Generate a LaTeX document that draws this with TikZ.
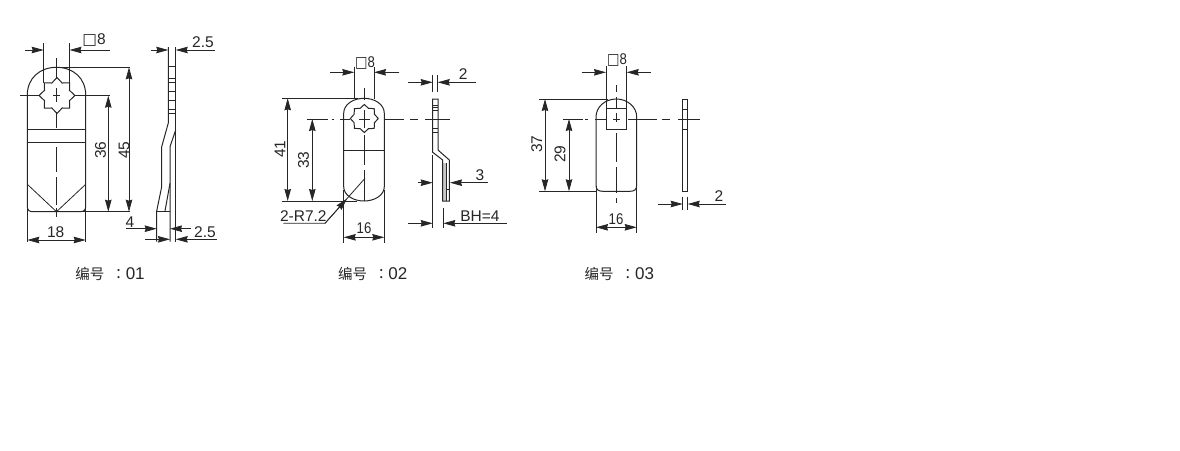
\documentclass[tikz,border=0pt]{standalone}
\usepackage{fontspec}
\setmainfont{Liberation Sans}
\newfontfamily\cjk{Noto Sans CJK SC}
\newfontfamily\cjkc{Noto Sans CJK TC}
\newfontfamily\symf{DejaVu Sans}
\usetikzlibrary{arrows.meta}
\definecolor{inkdark}{HTML}{262626}
\tikzset{
  partline/.style={draw=inkdark,line width=1pt},
  thinline/.style={draw=inkdark,line width=0.8pt},
  dimarrow/.style={draw=inkdark,line width=0.8pt,-{Stealth[length=12pt,width=6.5pt,inset=1pt]}},
  dimtext/.style={text=inkdark,font=\fontsize{15.5}{15}\selectfont,inner sep=0pt},
  footlabel/.style={text=inkdark,font=\fontsize{17}{16}\selectfont,inner sep=0pt}
}
\newcommand{\starhole}[4]{\draw[partline,shift={(#1,#2)}] (0:#3) \foreach \a in {0,45,...,315} {-- (\a+22.5:#4) -- (\a+45:#3)};}
\newcommand{\partlabel}[1]{{\cjk\fontsize{14.5}{14}\selectfont 编号}\hspace{7pt}{\cjkc\fontsize{14.5}{14}\selectfont ：}#1}
\newcommand{\narrow}[1]{\scalebox{.85}[1]{#1}}
\newcommand{\sqmark}{{\symf □}}
\begin{document}
\begin{tikzpicture}[x=1pt,y=-1pt]
  \useasboundingbox (0,0) rectangle (1180,450);
  % part 01, front
  \draw[partline] (27.3,206) -- (27.3,95) .. controls (27.3,78) and (40,67.3) .. (56.5,67.3)
     .. controls (73,67.3) and (85.7,78) .. (85.7,95) -- (85.7,206)
     .. controls (85.7,210) and (84,211.7) .. (80,211.7) -- (33,211.7)
     .. controls (29,211.7) and (27.3,210) .. (27.3,206);
  \starhole{57}{95.5}{18}{13.5}
  \draw[thinline] (27.3,129.7) -- (85.7,129.7);
  \draw[thinline] (27.3,142.3) -- (85.7,142.3);
  \draw[thinline] (27.3,184.3) -- (56.5,211.7) -- (85.7,184.3);
  \foreach \a/\b in {58/78,88/102,112/128,147/172,177/205,208/217} {
    \draw[thinline] (56.5,\a) -- (56.5,\b);
  }
  \draw[thinline] (20,95.7) -- (39,95.7);
  \draw[thinline] (75,95.7) -- (110,95.7);
  \draw[thinline] (53,95.7) -- (60,95.7);
  % part 01, front dimensions
  \draw[thinline] (43.7,43) -- (43.7,83);
  \draw[thinline] (69.5,43) -- (69.5,83);
  \draw[dimarrow] (25,50) -- (43.7,50);
  \draw[dimarrow] (110,50) -- (69.5,50);
  \node[dimtext] (sqa) at (94,40) {\sqmark 8};
  \draw[thinline] (56.5,67.3) -- (130,67.3);
  \draw[thinline] (56.5,211.7) -- (130,211.7);
  \draw[dimarrow] (129,140) -- (129,67.3);
  \draw[dimarrow] (129,140) -- (129,211.7);
  \draw[dimarrow] (108.3,150) -- (108.3,95.7);
  \draw[dimarrow] (108.3,150) -- (108.3,211.7);
  \node[dimtext,rotate=90] (d36) at (100.5,150) {36};
  \node[dimtext,rotate=90] (d45) at (124,150) {45};
  \draw[thinline] (27.3,206) -- (27.3,241.7);
  \draw[thinline] (85.7,206) -- (85.7,241.7);
  \draw[dimarrow] (56.5,240) -- (27.3,240);
  \draw[dimarrow] (56.5,240) -- (85.7,240);
  \node[dimtext] (d18) at (55.7,232.5) {18};
  \node[footlabel] (fa) at (110,274) {\partlabel{01}};
  % part 01, side
  \draw[partline] (168.3,47) -- (168.3,123) -- (161.7,146.7) -- (161.7,186.7) -- (156.7,211) -- (156.7,241.7);
  \draw[partline] (175.7,47) -- (175.7,241.7);
  \draw[partline] (175.7,130) -- (170,146.7) -- (170,241.7);
  \draw[partline] (170,183.3) -- (165,211);
  \draw[partline] (156.7,211) -- (170,211);
  \foreach \y in {66.7,78.3,82.3,91,100.7,109,113.3} {
    \draw[thinline] (168.3,\y) -- (175.7,\y);
  }
  \draw[dimarrow] (150.7,50) -- (168.3,50);
  \draw[dimarrow] (215,50) -- (175.7,50);
  \node[dimtext] (tha) at (203,42) {2.5};
  \draw[dimarrow] (126,228.7) -- (156.7,228.7);
  \draw[dimarrow] (191,228.7) -- (170,228.7);
  \node[dimtext] (dfour) at (130,222) {4};
  \draw[dimarrow] (145,239.3) -- (170,239.3);
  \draw[dimarrow] (216.7,239.3) -- (175.7,239.3);
  \node[dimtext] (thb) at (205,231.7) {2.5};
  % part 02, front
  \draw[partline] (343.7,113.3) .. controls (343.7,104.5) and (353,98.3) .. (364,98.3)
     .. controls (375,98.3) and (384.3,104.5) .. (384.3,113.3) -- (384.3,186.7)
     .. controls (384.3,195) and (375,201) .. (364,201)
     .. controls (353,201) and (343.7,195) .. (343.7,186.7) -- cycle;
  \starhole{364.3}{118.5}{14}{11}
  \draw[thinline] (343.7,150.7) -- (384.3,150.7);
  \foreach \a/\b in {88/100,110/128,135/165,170/201} {
    \draw[thinline] (364,\a) -- (364,\b);
  }
  \draw[thinline] (306.7,119) -- (328.3,119);
  \draw[thinline] (332,119) -- (334,119);
  \draw[thinline] (340,119) -- (350,119);
  \draw[thinline] (359,119) -- (370,119);
  \draw[thinline] (384.3,119) -- (404.3,119);
  \draw[thinline] (410,119) -- (417.7,119);
  \draw[thinline] (425,119) -- (450,119);
  % part 02, front dimensions
  \draw[thinline] (354.3,66.7) -- (354.3,99);
  \draw[thinline] (374,66.7) -- (374,99);
  \draw[dimarrow] (330,72.3) -- (354.3,72.3);
  \draw[dimarrow] (399.3,72.3) -- (374,72.3);
  \node[dimtext] (sqb) at (365,63) {\narrow{\sqmark 8}};
  \draw[thinline] (281.7,98.3) -- (358,98.3);
  \draw[thinline] (281.7,201) -- (356.7,201);
  \draw[dimarrow] (287.7,150) -- (287.7,98.3);
  \draw[dimarrow] (287.7,150) -- (287.7,201);
  \draw[dimarrow] (312.3,160) -- (312.3,119);
  \draw[dimarrow] (312.3,160) -- (312.3,201);
  \node[dimtext,rotate=90] (d41) at (280,149.3) {41};
  \node[dimtext,rotate=90] (d33) at (303.5,160) {33};
  \draw[thinline] (343.7,190) -- (343.7,242.7);
  \draw[thinline] (384.3,190) -- (384.3,242.7);
  \draw[dimarrow] (364,237.3) -- (343.7,237.3);
  \draw[dimarrow] (364,237.3) -- (384.3,237.3);
  \node[dimtext] (dsixb) at (364,228.3) {\narrow{16}};
  \draw[thinline] (283.3,223.3) -- (325,223.3) -- (365,178.3);
  \draw[dimarrow] (325,223.3) -- (347,198.7);
  \node[dimtext] (rad) at (303.3,216.5) {2-R7.2};
  \node[footlabel] (fb) at (372.7,274) {\partlabel{02}};
  % part 02, side
  \fill[gray!45] (442.7,163) rectangle (446,201);
  \draw[partline] (432.7,99) -- (438,99) -- (438,150) -- (449.3,160) -- (449.3,201) -- (442.7,201)
     -- (442.7,160) -- (432.7,152.3) -- cycle;
  \draw[thinline] (446,163) -- (446,201);
  \foreach \y in {105,107.3,110.7,128.3,132.7} {
    \draw[thinline] (432.7,\y) -- (438,\y);
  }
  \draw[thinline] (446,189) -- (449.3,189);
  \draw[thinline] (432.7,75) -- (432.7,91.7);
  \draw[thinline] (437.7,75) -- (437.7,91.7);
  \draw[dimarrow] (408.3,82.3) -- (432.7,82.3);
  \draw[dimarrow] (475.7,82.3) -- (437.7,82.3);
  \node[dimtext] (thc) at (463.3,74) {2};
  \draw[thinline] (432.7,155) -- (432.7,228);
  \draw[thinline] (443.3,208) -- (443.3,228);
  \draw[dimarrow] (418.3,182.7) -- (432.7,182.7);
  \draw[dimarrow] (488.3,182.7) -- (450,182.7);
  \node[dimtext] (dthree) at (480,175) {3};
  \draw[dimarrow] (408.3,223.3) -- (432.7,223.3);
  \draw[dimarrow] (506.7,223.3) -- (443.3,223.3);
  \node[dimtext] (bh) at (480,215.7) {BH=4};
  % part 03, front
  \draw[partline] (596,117) .. controls (596,107) and (605,99) .. (616.3,99)
     .. controls (627.5,99) and (636.7,107) .. (636.7,117) -- (636.7,185)
     .. controls (636.7,189.5) and (634.5,191.3) .. (630,191.3) -- (603,191.3)
     .. controls (598,191.3) and (596,189.5) .. (596,185) -- cycle;
  \draw[partline] (606,108.3) rectangle (626.7,129);
  \foreach \a/\b in {85/92,97/108,113/122,133/162,167/193,198/203} {
    \draw[thinline] (616.3,\a) -- (616.3,\b);
  }
  \draw[thinline] (562.7,119) -- (583,119);
  \draw[thinline] (585,119) -- (588,119);
  \draw[thinline] (595,119) -- (606,119);
  \draw[thinline] (613,119) -- (620,119);
  \draw[thinline] (628,119) -- (656.7,119);
  \draw[thinline] (661.7,119) -- (670,119);
  \draw[thinline] (678,119) -- (700,119);
  % part 03, front dimensions
  \draw[thinline] (606,66) -- (606,108.3);
  \draw[thinline] (626.7,66) -- (626.7,108.3);
  \draw[dimarrow] (581.7,72.3) -- (606,72.3);
  \draw[dimarrow] (651,72.3) -- (626.7,72.3);
  \node[dimtext] (sqc) at (617,60) {\narrow{\sqmark 8}};
  \draw[thinline] (539,99) -- (608,99);
  \draw[thinline] (539,191.3) -- (596,191.3);
  \draw[dimarrow] (545,145) -- (545,99);
  \draw[dimarrow] (545,145) -- (545,191.3);
  \draw[dimarrow] (569,155) -- (569,119);
  \draw[dimarrow] (569,155) -- (569,191.3);
  \node[dimtext,rotate=90] (d37) at (536.7,144.3) {37};
  \node[dimtext,rotate=90] (d29) at (560,154) {29};
  \draw[thinline] (596,186) -- (596,232.7);
  \draw[thinline] (636.7,186) -- (636.7,232.7);
  \draw[dimarrow] (616.3,227.3) -- (596,227.3);
  \draw[dimarrow] (616.3,227.3) -- (636.7,227.3);
  \node[dimtext] (dsixc) at (616,219) {\narrow{16}};
  \node[footlabel] (fc) at (619.3,274) {\partlabel{03}};
  % part 03, side
  \draw[partline] (682.7,99) rectangle (687.7,191.3);
  \draw[thinline] (682.7,109.3) -- (687.7,109.3);
  \draw[thinline] (682.7,129) -- (687.7,129);
  \draw[thinline] (682.7,196.7) -- (682.7,210);
  \draw[thinline] (687.7,196.7) -- (687.7,210);
  \draw[dimarrow] (658.3,204) -- (682.7,204);
  \draw[dimarrow] (725.7,204) -- (687.7,204);
  \node[dimtext] (thd) at (719,195.7) {2};
\end{tikzpicture}
\end{document}
